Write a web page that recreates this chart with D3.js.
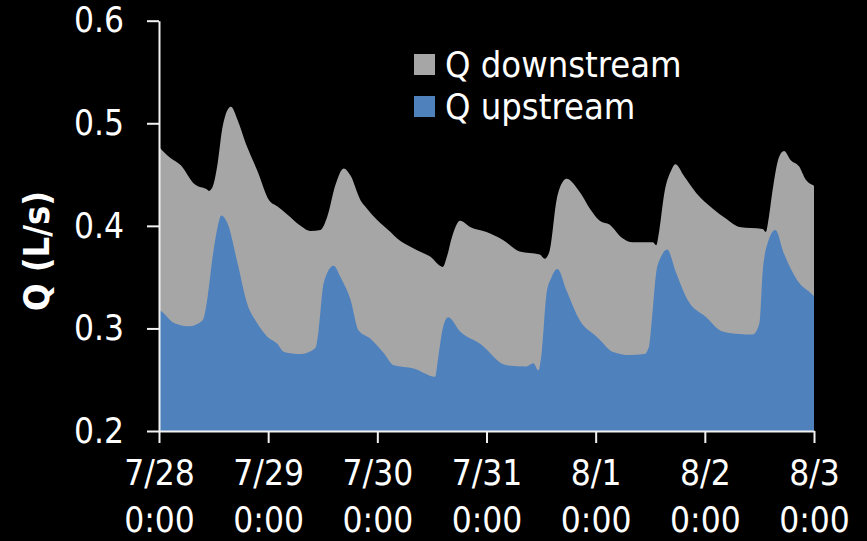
<!DOCTYPE html>
<html>
<head>
<meta charset="utf-8">
<script src="https://cdn.jsdelivr.net/npm/d3@7/dist/d3.min.js"></script>
<style>
  html, body { margin: 0; padding: 0; background: #000; }
  svg { display: block; }
  text { font-family: "DejaVu Sans Condensed", "DejaVu Sans", sans-serif; fill: #fff; }
</style>
</head>
<body>
<svg id="chart" width="867" height="541"></svg>
<script>
// Discharge records, hours after 7/28 0:00
const downHours = [0, 0.4, 2.6, 4.8, 7.7, 10.7, 11.0, 11.8, 12.9, 14.0, 15.8, 17.3, 19.1, 21.6,
  24.2, 26.0, 28.2, 30.8, 33.3, 35.5, 37.0, 38.8, 40.6, 42.1, 44.3, 45.7, 47.9,
  50.9, 52.3, 56.0, 59.6, 62.4, 63.3, 64.4, 66.2, 68.4, 72.0, 75.7, 79.3, 83.7, 84.8,
  85.9, 87.4, 88.5, 89.6, 92.5, 94.7, 96.9, 99.1, 101.6, 104.2, 108.6, 109.3,
  110.0, 111.1, 112.6, 113.5, 115.5, 118.1, 121.7, 124.7, 127.6, 132.7, 133.4,
  134.1, 134.9, 136.3, 137.4, 138.9, 140.7, 142.2, 143.6, 144];
const downQ = [0.477, 0.475, 0.466, 0.459, 0.441, 0.435, 0.434, 0.438, 0.461, 0.497, 0.516, 0.503, 0.480, 0.454,
  0.425, 0.419, 0.411, 0.401, 0.395, 0.396, 0.409, 0.440, 0.456, 0.449, 0.425, 0.417, 0.406,
  0.394, 0.388, 0.378, 0.370, 0.360, 0.370, 0.389, 0.405, 0.399, 0.394, 0.386, 0.375, 0.372, 0.368,
  0.376, 0.425, 0.441, 0.446, 0.433, 0.417, 0.405, 0.401, 0.389, 0.384, 0.384, 0.381,
  0.396, 0.432, 0.454, 0.460, 0.448, 0.432, 0.417, 0.407, 0.399, 0.397, 0.394,
  0.409, 0.435, 0.467, 0.473, 0.464, 0.458, 0.445, 0.440, 0.439];

const upHours = [0, 0.4, 3.4, 6.6, 9.6, 10.7, 11.8, 12.9, 13.7, 15.1, 17.3, 19.4, 21.6, 23.8,
  26.0, 27.5, 31.1, 34.4, 35.1, 36.2, 38.4, 39.9, 42.1, 43.9, 46.5, 49.4, 51.6,
  56.0, 60.7, 61.4, 62.5, 63.6, 66.2, 70.6, 76.4, 80.8, 82.3, 83.4, 84.2, 85.2,
  86.3, 87.6, 89.6, 92.5, 96.2, 96.9, 99.8, 103.5, 106.7, 107.7, 108.4, 109.3,
  110.4, 111.7, 113.7, 116.2, 120.3, 123.9, 127.6, 130.5, 132.0, 132.7, 133.8,
  135.5, 137.4, 140.3, 143.6, 144];
const upQ = [0.318, 0.317, 0.305, 0.302, 0.308, 0.331, 0.370, 0.399, 0.410, 0.402, 0.363, 0.324, 0.305, 0.292,
  0.285, 0.277, 0.275, 0.281, 0.298, 0.344, 0.361, 0.350, 0.328, 0.298, 0.290, 0.276, 0.264,
  0.261, 0.253, 0.272, 0.302, 0.311, 0.297, 0.285, 0.264, 0.263, 0.266, 0.259, 0.279, 0.334,
  0.350, 0.358, 0.337, 0.308, 0.292, 0.289, 0.277, 0.274, 0.275, 0.282, 0.311, 0.354,
  0.370, 0.377, 0.354, 0.328, 0.311, 0.297, 0.2945, 0.294, 0.305, 0.354, 0.383,
  0.396, 0.373, 0.347, 0.333, 0.331];

const seriesNames = ["Q downstream", "Q upstream"];
const seriesColors = ["#A6A6A6", "#4F81BD"];
const yTicks = [0.2, 0.3, 0.4, 0.5, 0.6];
const yLabel = "Q (L/s)";

const start = new Date(2000, 6, 28, 0, 0);
const end = new Date(2000, 7, 3, 0, 0);
const toDate = h => new Date(start.getTime() + h * 3600 * 1000);

const margin = { top: 20.7, right: 53, bottom: 110, left: 159 };
const W = 867, H = 541;
const svg = d3.select("#chart");

const x = d3.scaleTime().domain([start, end]).range([margin.left, W - margin.right]);
const y = d3.scaleLinear().domain([0.2, 0.6]).range([H - margin.bottom, margin.top]);

const area = d3.area()
  .curve(d3.curveMonotoneX)
  .x(d => x(d.t))
  .y0(y(0.2))
  .y1(d => y(d.q));

const down = downHours.map((h, i) => ({ t: toDate(h), q: downQ[i] }));
const up = upHours.map((h, i) => ({ t: toDate(h), q: upQ[i] }));

svg.append("path").datum(down).attr("d", area).attr("fill", seriesColors[0]);
svg.append("path").datum(up).attr("d", area).attr("fill", seriesColors[1]);

// Y axis
const yAxis = svg.append("g")
  .attr("transform", `translate(${margin.left},0)`)
  .call(d3.axisLeft(y).tickValues(yTicks).tickFormat(d3.format(".1f"))
    .tickSize(12).tickPadding(23).tickSizeOuter(0));
yAxis.select(".domain").attr("stroke", "#F2F2F2").attr("stroke-width", 2);
yAxis.selectAll(".tick line").attr("stroke", "#F2F2F2").attr("stroke-width", 2);
yAxis.selectAll(".tick text")
  .attr("font-size", 35)
  .attr("font-family", null)
  .attr("fill", "#fff");

// X axis with two-line date/time labels
const xAxis = svg.append("g")
  .attr("transform", `translate(0,${H - margin.bottom})`)
  .call(d3.axisBottom(x).ticks(d3.timeDay.every(1)).tickSize(12).tickSizeOuter(0)
    .tickFormat(() => ""));
xAxis.select(".domain").attr("stroke", "#F2F2F2").attr("stroke-width", 2);
xAxis.selectAll(".tick line").attr("stroke", "#F2F2F2").attr("stroke-width", 2);
const fmtDate = d3.timeFormat("%-m/%-d");
const fmtTime = d3.timeFormat("%-H:%M");
xAxis.selectAll(".tick text").remove();
xAxis.selectAll(".tick").each(function(d) {
  const t = d3.select(this).append("text")
    .attr("text-anchor", "middle")
    .attr("font-size", 35)
    .attr("fill", "#fff");
  t.append("tspan").attr("x", 0).attr("y", 54).text(fmtDate(d));
  t.append("tspan").attr("x", 0).attr("y", 101).text(fmtTime(d));
});

// Y axis title
svg.append("text")
  .attr("transform", "translate(49,251) rotate(-90)")
  .attr("text-anchor", "middle")
  .attr("font-family", "'DejaVu Sans', sans-serif")
  .attr("font-weight", "bold")
  .attr("font-size", 36)
  .text(yLabel);

// Legend
const legend = svg.append("g").attr("transform", "translate(414,54)");
seriesNames.forEach((name, i) => {
  const row = legend.append("g").attr("transform", `translate(0,${i * 42})`);
  row.append("rect").attr("width", 21).attr("height", 21).attr("fill", seriesColors[i]);
  row.append("text").attr("x", 31).attr("y", 23).attr("font-size", 36).text(name);
});
</script>
</body>
</html>
